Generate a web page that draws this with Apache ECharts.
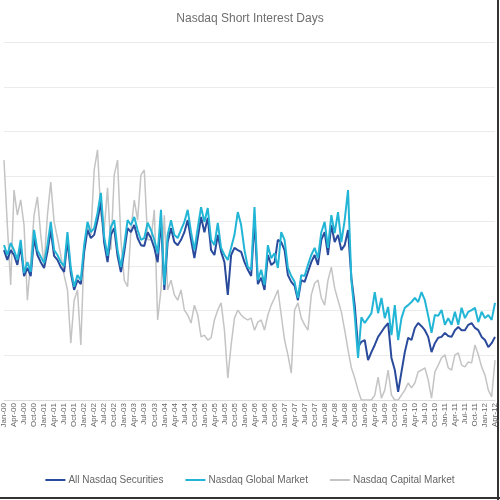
<!DOCTYPE html>
<html>
<head>
<meta charset="utf-8">
<script src="https://cdn.jsdelivr.net/npm/echarts@6/dist/echarts.min.js"></script>
<style>html,body{margin:0;padding:0;background:#fff}#c{width:500px;height:500px}</style>
</head>
<body>
<div id="c"></div>
<script>
// Monthly observations Jan-00 .. Apr-12 (labels shown quarterly)
const months = ['Jan','Feb','Mar','Apr','May','Jun','Jul','Aug','Sep','Oct','Nov','Dec'];
const categories = [];
for (let y = 0; y <= 12; y++) {
  for (let m = 0; m < 12; m++) {
    if (y === 12 && m > 3) break;
    categories.push(months[m] + '-' + String(y).padStart(2, '0'));
  }
}

const allNasdaq = [
4.35,4.13,4.35,4.24,4.02,4.44,3.77,3.95,3.77,4.62,4.24,4.08,3.95,4.31,4.80,4.22,4.13,3.97,3.86,4.58,
3.84,3.46,3.68,3.59,4.31,4.80,4.62,4.69,5.02,5.42,4.51,4.08,4.69,4.84,4.22,3.86,4.31,4.84,4.75,4.91,
4.62,4.46,4.44,4.75,4.62,4.40,4.08,5.02,3.46,4.53,4.84,4.53,4.46,4.58,4.75,5.02,4.58,4.17,4.62,5.09,
4.75,5.07,4.35,4.24,4.69,4.31,4.08,3.35,4.24,4.40,4.35,4.31,4.08,3.91,3.77,5.02,3.59,3.73,3.46,4.24,
4.02,4.08,4.58,4.53,4.35,3.79,3.64,3.55,3.23,3.68,3.64,3.86,4.08,4.24,4.02,4.58,4.75,4.24,4.91,4.53,
4.69,4.35,4.46,4.80,3.73,3.12,2.18,2.30,2.34,1.89,2.07,2.23,2.41,2.52,2.63,2.72,1.94,1.67,1.18,1.63,
2.07,2.39,2.34,2.61,2.72,2.65,2.56,2.41,2.07,2.27,2.39,2.41,2.50,2.43,2.41,2.56,2.63,2.56,2.56,2.68,
2.72,2.61,2.56,2.41,2.34,2.18,2.27,2.41];

const globalMarket = [
4.46,4.24,4.51,4.35,4.13,4.58,3.84,4.08,3.86,4.80,4.35,4.20,4.06,4.46,4.98,4.35,4.24,4.08,3.99,4.75,
3.95,3.53,3.79,3.68,4.46,4.98,4.75,4.84,5.18,5.63,4.64,4.22,4.87,5.02,4.35,3.97,4.46,5.02,4.91,5.09,
4.80,4.58,4.62,4.96,4.80,4.58,4.28,5.25,3.57,4.69,5.02,4.69,4.62,4.80,4.98,5.25,4.75,4.35,4.84,5.31,
4.98,5.29,4.58,4.46,4.96,4.40,4.24,4.13,4.40,4.69,5.20,4.91,4.35,3.97,3.91,5.31,3.68,3.91,3.57,4.46,
4.17,4.28,3.95,4.75,4.58,3.95,3.77,3.64,3.28,3.79,3.77,4.02,4.24,4.40,4.17,4.75,4.98,4.40,5.13,4.73,
5.20,4.53,5.02,5.69,3.68,2.90,1.94,2.85,2.72,2.83,2.94,3.41,2.94,3.28,2.83,3.08,2.45,3.12,2.34,2.83,
3.06,3.12,3.19,3.28,3.19,3.41,3.23,2.88,2.50,2.90,2.88,3.01,2.68,2.83,2.68,2.97,2.68,3.06,2.83,2.97,
3.01,3.06,2.74,2.97,2.83,2.90,2.79,3.17];

const capitalMarket = [
6.36,4.91,3.57,5.69,5.13,5.47,4.91,3.23,4.13,5.13,5.54,4.69,4.02,5.13,5.87,4.98,4.62,4.24,3.79,3.46,
2.27,3.23,3.46,2.23,4.35,4.91,4.69,6.14,6.59,5.13,4.80,5.74,4.35,6.03,6.36,4.58,3.68,3.53,4.80,5.47,
5.02,6.03,6.14,4.58,4.58,5.25,2.79,3.46,5.13,3.46,3.68,3.35,3.23,3.46,3.01,2.90,2.72,3.12,2.90,2.41,
2.45,2.34,2.39,2.79,3.01,3.17,2.56,1.49,2.23,2.83,3.01,2.90,2.83,2.79,2.83,2.56,2.74,2.79,2.56,2.90,
3.12,3.28,3.46,2.90,2.34,2.01,1.60,3.01,3.17,2.83,2.68,2.56,3.35,3.61,3.68,3.28,3.12,3.68,3.97,3.50,
3.23,2.97,2.56,2.12,1.72,1.49,1.22,1.00,1.00,1.00,1.00,1.11,1.51,1.04,1.22,1.67,1.11,1.00,1.00,1.11,
1.22,1.38,1.27,1.38,1.63,1.67,1.72,1.45,1.04,1.63,1.78,1.94,2.01,1.72,1.67,2.01,2.05,1.78,1.74,1.85,
1.83,2.23,2.01,1.74,1.56,1.22,1.07,1.89];

const seriesNames = ['All Nasdaq Securities', 'Nasdaq Global Market', 'Nasdaq Capital Market'];
const colors = ['#2a4a9c', '#22b5d6', '#c4c4c4'];

const chart = echarts.init(document.getElementById('c'), null, {renderer: 'canvas'});
chart.setOption({
  animation: false,
  backgroundColor: '#ffffff',
  title: {
    text: 'Nasdaq Short Interest Days',
    left: 'center',
    top: 8,
    textStyle: {fontFamily: 'Liberation Sans, Arial, sans-serif', fontSize: 12, fontWeight: 'normal', color: '#6e6e6e'}
  },
  legend: {
    bottom: 10,
    left: 'center',
    itemWidth: 20,
    itemHeight: 2,
    itemGap: 22,
    icon: 'rect',
    data: seriesNames,
    textStyle: {fontFamily: 'Liberation Sans, Arial, sans-serif', fontSize: 10, color: '#666666', padding: [0, 0, 0, -2]}
  },
  grid: {left: 3, right: 5, top: 42, bottom: 100, containLabel: false},
  xAxis: {
    type: 'category',
    data: categories,
    boundaryGap: false,
    axisLine: {lineStyle: {color: '#dcdcdc', width: 1}},
    axisTick: {show: false},
    axisLabel: {rotate: 90, interval: 2, fontSize: 8, color: '#666666', margin: 3,
      fontFamily: 'Liberation Sans, Arial, sans-serif'},
    splitLine: {show: false}
  },
  yAxis: {
    type: 'value',
    min: 1, max: 9, interval: 1,
    axisLabel: {show: false},
    axisLine: {show: false},
    axisTick: {show: false},
    splitLine: {lineStyle: {color: '#ebebeb', width: 1}}
  },
  series: [
    {name: seriesNames[2], type: 'line', data: capitalMarket, showSymbol: false, z: 1,
     lineStyle: {color: colors[2], width: 1.5}, itemStyle: {color: colors[2]}},
    {name: seriesNames[0], type: 'line', data: allNasdaq, showSymbol: false, z: 2,
     lineStyle: {color: colors[0], width: 2}, itemStyle: {color: colors[0]}},
    {name: seriesNames[1], type: 'line', data: globalMarket, showSymbol: false, z: 3,
     lineStyle: {color: colors[1], width: 2}, itemStyle: {color: colors[1]}}
  ],
  graphic: [
    {type: 'line', shape: {x1: 498, y1: 0, x2: 498, y2: 500}, style: {stroke: '#333', lineWidth: 2}},
    {type: 'line', shape: {x1: 0, y1: 498, x2: 500, y2: 498}, style: {stroke: '#333', lineWidth: 2}}
  ]
});
</script>
</body>
</html>
